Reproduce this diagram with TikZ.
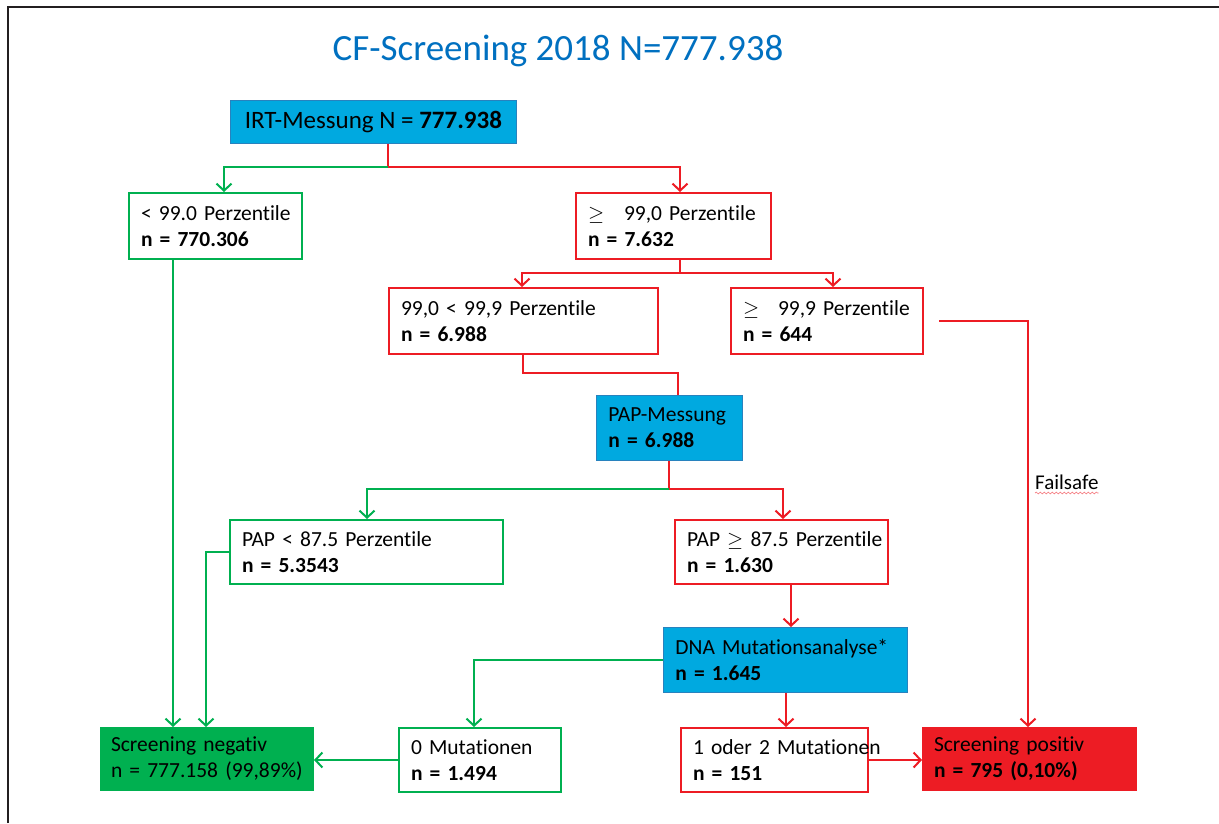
\documentclass[tikz,border=0pt]{standalone}
\usepackage{fontspec}
\setmainfont{Carlito}[Ligatures=NoCommon]
\usetikzlibrary{arrows.meta,decorations.pathmorphing}
\definecolor{cgreen}{RGB}{0,176,80}
\definecolor{cred}{RGB}{237,28,36}
\definecolor{ccyan}{RGB}{0,169,224}
\definecolor{ccyanb}{RGB}{40,130,190}
\definecolor{ctitle}{RGB}{0,112,192}
\definecolor{cframe}{RGB}{35,31,32}
\newcommand\twolines[2]{\mbox{#1}\\\mbox{#2}}
\tikzset{
  base/.style={anchor=north west, inner xsep=12pt, inner ysep=0pt, align=left,
    font=\fontsize{21.5}{26}\selectfont, line width=2pt},
  gbox/.style={base, draw=cgreen},
  rbox/.style={base, draw=cred},
  cbox/.style={base, fill=ccyan, draw=ccyanb, line width=0.8pt},
  gline/.style={draw=cgreen, line width=2pt},
  rline/.style={draw=cred, line width=2pt},
  arr/.style={-{Straight Barb[length=7pt,width=15pt]}}
}
\begin{document}
\begin{tikzpicture}[x=1pt,y=-1pt]
\useasboundingbox (0,0) rectangle (1219,823);
% frame
\draw[cframe, line width=2.5pt] (8,823) -- (8,7) -- (1219,7);
% title
\node[anchor=base, text=ctitle, font=\fontsize{37}{44}\selectfont, inner sep=0pt] (title) at (558,60) {CF-Screening 2018 N=777.938};
% boxes
\node[cbox, minimum width=286pt, minimum height=43pt, font=\fontsize{25}{30}\selectfont] (IRT) at (230,100) {IRT-Messung N = \textbf{777.938}};
\node[gbox, minimum width=173pt, minimum height=66pt, text width=149pt] (A) at (128,192) {\twolines{< 99.0 Perzentile}{\textbf{n = 770.306}}};
\node[rbox, minimum width=195pt, minimum height=66pt, text width=171pt] (B) at (575,192) {\twolines{\makebox[36pt][l]{$\geq$}99,0 Perzentile}{\textbf{n = 7.632}}};
\node[rbox, minimum width=269pt, minimum height=66pt, text width=245pt] (C) at (388,287) {\twolines{99,0 < 99,9 Perzentile}{\textbf{n = 6.988}}};
\node[rbox, minimum width=192pt, minimum height=66pt, text width=168pt] (D) at (730,287) {\twolines{\makebox[35pt][l]{$\geq$}99,9 Perzentile}{\textbf{n = 644}}};
\node[cbox, minimum width=146pt, minimum height=65pt, text width=122pt] (PAP) at (596,395) {\twolines{PAP-Messung}{\textbf{n = 6.988}}};
\node[gbox, minimum width=273pt, minimum height=64pt, text width=249pt] (E) at (229,519) {\twolines{PAP < 87.5 Perzentile}{\textbf{n = 5.3543}}};
\node[rbox, minimum width=213pt, minimum height=64pt, text width=189pt] (F) at (674,519) {\twolines{PAP $\geq$ 87.5 Perzentile}{\textbf{n = 1.630}}};
\node[cbox, minimum width=244pt, minimum height=65pt, text width=220pt] (DNA) at (663,627) {\twolines{DNA Mutationsanalyse*}{\textbf{n = 1.645}}};
\node[base, fill=cgreen, line width=0pt, inner xsep=11pt, minimum width=214pt, minimum height=64pt, text width=192pt] (NEG) at (100,727) {\twolines{Screening negativ}{n = 777.158 (99,89\%)}};
\node[gbox, minimum width=162pt, minimum height=64pt, text width=138pt] (M0) at (398,727) {\twolines{0 Mutationen}{\textbf{n = 1.494}}};
\node[rbox, minimum width=187pt, minimum height=64pt, text width=163pt] (M12) at (680,727) {\twolines{1 oder 2 Mutationen}{\textbf{n = 151}}};
\node[base, fill=cred, line width=0pt, minimum width=215pt, minimum height=64pt, text width=191pt] (POS) at (922,727) {\twolines{Screening positiv}{\textbf{n = 795 (0,10\%)}}};
% junction coordinates
\coordinate (j1) at (388,167);
\coordinate (j1g) at (224,167);
\coordinate (j1r) at (680,167);
\coordinate (j2) at (680,273);
\coordinate (j2l) at (522,273);
\coordinate (j2r) at (833,273);
\coordinate (j3a) at (523,373);
\coordinate (j3b) at (678,373);
\coordinate (j4) at (669,489);
\coordinate (j4g) at (367,489);
\coordinate (j4r) at (783,489);
\coordinate (fs) at (1028,320);
\coordinate (eL) at (206,551);
\coordinate (aL) at (173,300);
\coordinate (fL) at (791,600);
\coordinate (dL) at (474,660);
\coordinate (dB) at (786,700);
% connectors
\draw[rline] (IRT.south -| j1) -- (j1);
\draw[rline, arr] (j1) -- (j1r) -- (B.north -| j1r);
\draw[gline, arr] (j1) -- (j1g) -- (A.north -| j1g);
\draw[rline] (B.south -| j2) -- (j2);
\draw[rline, arr] (j2) -- (j2l) -- (C.north -| j2l);
\draw[rline, arr] (j2) -- (j2r) -- (D.north -| j2r);
\draw[rline] (C.south -| j3a) -- (j3a) -- (j3b) -- (PAP.north -| j3b);
\draw[rline] (PAP.south -| j4) -- (j4);
\draw[rline, arr] (j4) -- (j4r) -- (F.north -| j4r);
\draw[gline, arr] (j4) -- (j4g) -- (E.north -| j4g);
\draw[rline, arr] ([xshift=15pt]D.east) -- (D.east -| fs) -- (POS.north -| fs);
\draw[gline, arr] (E.west) -- (E.west -| eL) -- (NEG.north -| eL);
\draw[gline, arr] (A.south -| aL) -- (NEG.north -| aL);
\draw[rline, arr] (F.south -| fL) -- (DNA.north -| fL);
\draw[gline, arr] (DNA.west |- dL) -- (dL) -- (M0.north -| dL);
\draw[rline, arr] (DNA.south -| dB) -- (M12.north -| dB);
\draw[gline, arr] (M0.west) -- (M0.west -| NEG.east);
\draw[rline, arr] (M12.east) -- (M12.east -| POS.west);
% failsafe label
\node[anchor=west, inner sep=0pt, font=\fontsize{21}{25}\selectfont] (fslabel) at (1035,482) {Failsafe};
\draw[cred!55, line width=0.7pt, decorate, decoration={snake, amplitude=0.9pt, segment length=4pt}] (fslabel.south west |- 0,493) -- (fslabel.south east |- 0,493);
\end{tikzpicture}
\end{document}
